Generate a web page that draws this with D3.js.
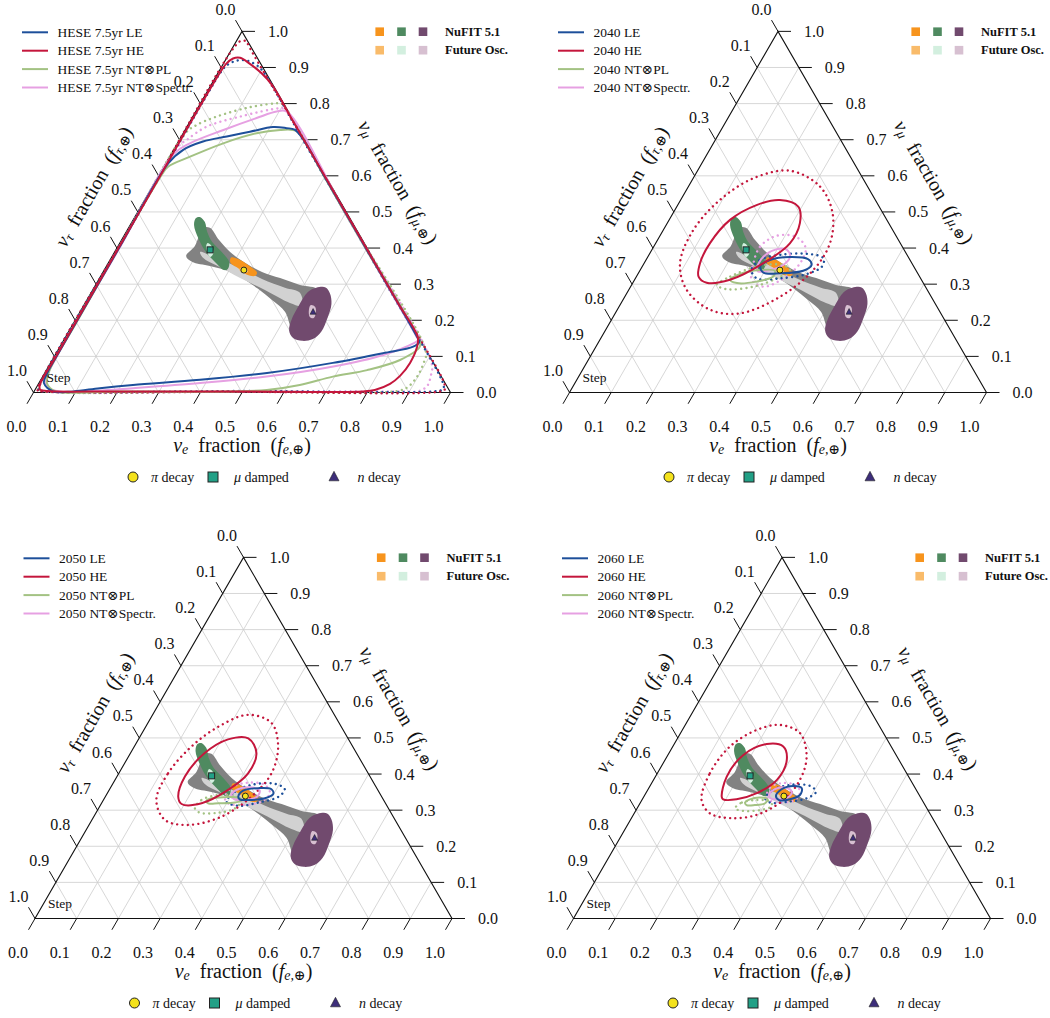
<!DOCTYPE html>
<html><head><meta charset="utf-8">
<script src="https://cdn.jsdelivr.net/npm/d3@7"></script>
<style>
body{margin:0;background:#fff;}
text{font-family:"Liberation Serif","DejaVu Serif",serif;fill:#111;}
</style></head><body>
<svg id="chart" width="1050" height="1018"></svg>
<script>
// ---------- axis values ----------
const tickValues = [0, 0.1, 0.2, 0.3, 0.4, 0.5, 0.6, 0.7, 0.8, 0.9, 1.0];
const tickLabels = ["0.0","0.1","0.2","0.3","0.4","0.5","0.6","0.7","0.8","0.9","1.0"];
const gridValues = [0.1, 0.2, 0.3, 0.4, 0.5, 0.6, 0.7, 0.8, 0.9];

// ---------- legend text ----------
const panelPrefixes = ["HESE 7.5yr", "2040", "2050", "2060"];
const seriesKeys = ["LE", "HE", "NT\u2297PL", "NT\u2297Spectr."];
const oscLabels = ["NuFIT 5.1", "Future Osc."];
const sourceLabels = [["\u03c0", " decay"], ["\u03bc", " damped"], ["n", " decay"]];

// ---------- source-flavour benchmarks at Earth [f_e, f_mu] ----------
const piDecay = [0.335, 0.339];
const muDamped = [0.226, 0.395];
const nDecay = [0.559, 0.223];

// ---------- allowed regions of flavour composition [f_e, f_mu] ----------
const anySourceOuter = [[0.177,0.378],[0.184,0.406],[0.179,0.456],[0.195,0.456],[0.234,0.422],[0.277,0.389],[0.334,0.356],[0.381,0.334],[0.433,0.317],[0.490,0.298],[0.540,0.284],[0.551,0.201],[0.536,0.173],[0.492,0.223],[0.444,0.256],[0.395,0.287],[0.351,0.312],[0.304,0.334],[0.248,0.350],[0.199,0.362]];
const anySourceInner = [[0.205,0.389],[0.249,0.373],[0.323,0.345],[0.391,0.314],[0.458,0.290],[0.501,0.276],[0.524,0.240],[0.491,0.248],[0.413,0.284],[0.337,0.317],[0.267,0.350],[0.220,0.373]];
const nufitMuDamped = [[0.156,0.486],[0.175,0.472],[0.194,0.445],[0.220,0.417],[0.257,0.389],[0.288,0.362],[0.295,0.342],[0.287,0.339],[0.262,0.356],[0.219,0.389],[0.181,0.428],[0.153,0.464],[0.148,0.483]];
const futureMuDamped = [[0.211,0.414],[0.227,0.403],[0.239,0.384],[0.236,0.375],[0.222,0.389],[0.211,0.406]];
const nufitPi = [[0.287,0.374],[0.312,0.367],[0.345,0.349],[0.370,0.332],[0.370,0.323],[0.349,0.326],[0.319,0.344],[0.292,0.360]];
const futurePi = [[0.326,0.346],[0.340,0.344],[0.347,0.335],[0.344,0.331],[0.330,0.334],[0.323,0.341]];
const nufitN = [[0.519,0.278],[0.533,0.290],[0.555,0.291],[0.574,0.274],[0.592,0.245],[0.602,0.206],[0.606,0.168],[0.596,0.148],[0.573,0.143],[0.547,0.151],[0.527,0.172],[0.518,0.202],[0.516,0.240]];
const futureN = [[0.544,0.242],[0.557,0.237],[0.567,0.220],[0.569,0.206],[0.558,0.209],[0.546,0.229]];

// ---------- measured flavour-ratio contours [f_e, f_mu]; 68% and 95% CL ----------
// HESE 7.5 yr
const hese_LE_68 = [[0.046,0.003],[0.094,0.003],[0.153,0.012],[0.228,0.021],[0.382,0.035],[0.533,0.054],[0.677,0.082],[0.784,0.109],[0.847,0.127],[0.855,0.140],[0.840,0.157],[0.600,0.397],[0.400,0.597],[0.292,0.705],[0.262,0.728],[0.241,0.732],[0.207,0.735],[0.158,0.722],[0.109,0.709],[0.059,0.695],[0.023,0.672],[0.006,0.635],[0.005,0.400],[0.005,0.100],[0.006,0.054],[0.012,0.026]];
const hese_LE_95 = [[0.020,0.004],[0.008,0.008],[0.004,0.020],[0.004,0.500],[0.004,0.840],[0.005,0.880],[0.010,0.905],[0.028,0.919],[0.052,0.919],[0.075,0.910],[0.100,0.894],[0.300,0.696],[0.700,0.296],[0.972,0.022],[0.978,0.009],[0.965,0.004],[0.500,0.004]];
const hese_HE_68 = [[0.030,0.004],[0.012,0.008],[0.005,0.020],[0.004,0.100],[0.004,0.500],[0.004,0.880],[0.007,0.910],[0.016,0.925],[0.032,0.927],[0.064,0.910],[0.105,0.884],[0.148,0.850],[0.250,0.748],[0.500,0.498],[0.750,0.248],[0.845,0.153],[0.857,0.125],[0.862,0.082],[0.856,0.046],[0.843,0.024],[0.815,0.007],[0.790,0.003],[0.500,0.003],[0.200,0.003]];
const hese_HE_95 = [[0.020,0.003],[0.007,0.006],[0.003,0.020],[0.003,0.500],[0.003,0.955],[0.011,0.974],[0.025,0.972],[0.036,0.960],[0.300,0.698],[0.700,0.298],[0.975,0.022],[0.982,0.008],[0.970,0.002],[0.500,0.002]];
const hese_PL_68 = [[0.050,0.004],[0.200,0.003],[0.477,0.003],[0.556,0.007],[0.628,0.021],[0.696,0.044],[0.769,0.062],[0.834,0.090],[0.863,0.127],[0.855,0.142],[0.600,0.396],[0.400,0.596],[0.275,0.720],[0.258,0.727],[0.228,0.727],[0.176,0.718],[0.110,0.690],[0.049,0.653],[0.010,0.625],[0.006,0.600],[0.006,0.200],[0.008,0.060],[0.020,0.025]];
const hese_PL_95 = [[0.020,0.004],[0.007,0.010],[0.004,0.030],[0.004,0.400],[0.005,0.718],[0.020,0.740],[0.057,0.764],[0.124,0.790],[0.190,0.801],[0.197,0.799],[0.500,0.496],[0.885,0.112],[0.895,0.080],[0.898,0.045],[0.890,0.015],[0.870,0.004],[0.500,0.003]];
const hese_Sp_68 = [[0.060,0.003],[0.119,0.003],[0.233,0.012],[0.387,0.026],[0.537,0.044],[0.683,0.072],[0.787,0.104],[0.843,0.136],[0.850,0.145],[0.840,0.156],[0.500,0.496],[0.218,0.778],[0.194,0.778],[0.155,0.760],[0.092,0.727],[0.030,0.690],[0.006,0.660],[0.006,0.400],[0.006,0.100],[0.010,0.045],[0.025,0.015]];
const hese_Sp_95 = [[0.020,0.004],[0.008,0.010],[0.005,0.030],[0.005,0.400],[0.006,0.680],[0.018,0.700],[0.047,0.736],[0.113,0.764],[0.197,0.787],[0.210,0.785],[0.500,0.496],[0.915,0.080],[0.930,0.045],[0.935,0.018],[0.922,0.004],[0.880,0.003],[0.500,0.003]];
// 2040 projection
const y2040_LE_68 = [[0.283,0.349],[0.297,0.367],[0.342,0.375],[0.388,0.369],[0.404,0.353],[0.392,0.337],[0.340,0.330],[0.299,0.332]];
const y2040_LE_95 = [[0.267,0.339],[0.273,0.367],[0.314,0.381],[0.377,0.384],[0.423,0.372],[0.431,0.349],[0.405,0.328],[0.347,0.316],[0.291,0.316]];
const y2040_HE_68 = [[0.134,0.358],[0.149,0.321],[0.177,0.304],[0.229,0.312],[0.286,0.358],[0.322,0.413],[0.318,0.469],[0.291,0.515],[0.238,0.533],[0.189,0.519],[0.146,0.478],[0.130,0.413]];
const y2040_HE_95 = [[0.222,0.614],[0.316,0.570],[0.383,0.496],[0.418,0.413],[0.415,0.339],[0.372,0.265],[0.299,0.219],[0.223,0.229],[0.139,0.284],[0.086,0.358],[0.072,0.450],[0.094,0.533],[0.144,0.593]];
const y2040_PL_68 = [[0.229,0.312],[0.245,0.328],[0.287,0.339],[0.324,0.337],[0.328,0.321],[0.295,0.307],[0.250,0.303]];
const y2040_PL_95 = [[0.204,0.298],[0.225,0.321],[0.275,0.349],[0.336,0.353],[0.359,0.339],[0.339,0.316],[0.294,0.293],[0.234,0.286]];
const y2040_Sp_68 = [[0.277,0.344],[0.277,0.376],[0.299,0.397],[0.324,0.395],[0.341,0.376],[0.336,0.353],[0.311,0.339],[0.285,0.335]];
const y2040_Sp_95 = [[0.262,0.358],[0.255,0.404],[0.280,0.434],[0.330,0.430],[0.367,0.399],[0.374,0.358],[0.355,0.316],[0.318,0.293],[0.281,0.312]];
// 2050 projection
const y2050_LE_68 = [[0.319,0.337],[0.322,0.354],[0.355,0.361],[0.388,0.358],[0.399,0.345],[0.385,0.333],[0.347,0.328],[0.326,0.330]];
const y2050_LE_95 = [[0.297,0.324],[0.304,0.351],[0.334,0.370],[0.389,0.373],[0.420,0.358],[0.415,0.337],[0.375,0.321],[0.332,0.312]];
const y2050_HE_68 = [[0.175,0.337],[0.163,0.393],[0.178,0.458],[0.215,0.496],[0.262,0.499],[0.302,0.458],[0.310,0.402],[0.285,0.356],[0.240,0.319],[0.193,0.317]];
const y2050_HE_95 = [[0.127,0.328],[0.118,0.402],[0.137,0.476],[0.174,0.531],[0.229,0.564],[0.297,0.541],[0.345,0.476],[0.366,0.402],[0.350,0.337],[0.306,0.282],[0.238,0.259],[0.175,0.273]];
const y2050_PL_68 = [[0.248,0.326],[0.257,0.333],[0.287,0.336],[0.320,0.335],[0.331,0.328],[0.319,0.321],[0.280,0.319],[0.256,0.319]];
const y2050_PL_95 = [[0.231,0.305],[0.235,0.328],[0.268,0.342],[0.309,0.339],[0.331,0.328],[0.327,0.305],[0.293,0.293],[0.249,0.293]];
const y2050_Sp_68 = [[0.300,0.342],[0.308,0.358],[0.338,0.363],[0.362,0.354],[0.363,0.336],[0.339,0.328],[0.314,0.330]];
const y2050_Sp_95 = [[0.289,0.333],[0.290,0.363],[0.323,0.376],[0.366,0.370],[0.390,0.347],[0.381,0.324],[0.338,0.314],[0.304,0.319]];
// 2060 projection
const y2060_LE_68 = [[0.316,0.339],[0.320,0.358],[0.344,0.367],[0.367,0.361],[0.372,0.342],[0.354,0.330],[0.329,0.328]];
const y2060_LE_95 = [[0.293,0.333],[0.301,0.356],[0.334,0.370],[0.384,0.367],[0.406,0.351],[0.393,0.333],[0.357,0.324],[0.311,0.321]];
const y2060_HE_68 = [[0.187,0.337],[0.171,0.393],[0.181,0.453],[0.222,0.483],[0.265,0.476],[0.292,0.439],[0.296,0.384],[0.266,0.347],[0.226,0.330],[0.194,0.330]];
const y2060_HE_95 = [[0.143,0.328],[0.126,0.402],[0.137,0.476],[0.178,0.522],[0.227,0.536],[0.287,0.513],[0.335,0.448],[0.351,0.384],[0.339,0.328],[0.296,0.287],[0.237,0.278],[0.182,0.291]];
const y2060_PL_68 = [[0.251,0.321],[0.258,0.330],[0.280,0.335],[0.300,0.330],[0.300,0.319],[0.278,0.314],[0.258,0.314]];
const y2060_PL_95 = [[0.235,0.305],[0.243,0.321],[0.275,0.328],[0.309,0.324],[0.320,0.312],[0.301,0.301],[0.258,0.298]];
const y2060_Sp_68 = [[0.298,0.342],[0.304,0.358],[0.326,0.363],[0.348,0.351],[0.347,0.336],[0.326,0.330],[0.306,0.333]];
const y2060_Sp_95 = [[0.295,0.337],[0.290,0.363],[0.312,0.375],[0.346,0.370],[0.368,0.351],[0.367,0.328],[0.339,0.321],[0.309,0.326]];

// ---------- drawing ----------
const svg = d3.select("#chart");
const SIDE = 417, HGT = SIDE * Math.sqrt(3) / 2;
const colors = { LE: "#1d4f9a", HE: "#c4163c", PL: "#a3c283", Sp: "#e6a0e2" };
const oscColors = [["#f7941d", "#4f8a60", "#714a6e"], ["#f9bb6a", "#d3efdf", "#d7c0d1"]];

const panels = [
  { ox: 33.5, oy: 392.5, prefix: panelPrefixes[0],
    sets: { LE: [hese_LE_68, hese_LE_95], HE: [hese_HE_68, hese_HE_95], PL: [hese_PL_68, hese_PL_95], Sp: [hese_Sp_68, hese_Sp_95] } },
  { ox: 569.5, oy: 392.5, prefix: panelPrefixes[1],
    sets: { LE: [y2040_LE_68, y2040_LE_95], HE: [y2040_HE_68, y2040_HE_95], PL: [y2040_PL_68, y2040_PL_95], Sp: [y2040_Sp_68, y2040_Sp_95] } },
  { ox: 35, oy: 918.5, prefix: panelPrefixes[2],
    sets: { LE: [y2050_LE_68, y2050_LE_95], HE: [y2050_HE_68, y2050_HE_95], PL: [y2050_PL_68, y2050_PL_95], Sp: [y2050_Sp_68, y2050_Sp_95] } },
  { ox: 573.5, oy: 918.5, prefix: panelPrefixes[3],
    sets: { LE: [y2060_LE_68, y2060_LE_95], HE: [y2060_HE_68, y2060_HE_95], PL: [y2060_PL_68, y2060_PL_95], Sp: [y2060_Sp_68, y2060_Sp_95] } }
];

function mathTitle(g, x, y, rot, sub) {
  const t = g.append("text")
    .attr("transform", `translate(${x},${y}) rotate(${rot})`)
    .attr("text-anchor", "middle").attr("dominant-baseline", "central")
    .style("font-size", "20px");
  t.append("tspan").text("\u03bd").style("font-style", "italic");
  t.append("tspan").text(sub).attr("dy", 4).style("font-size", "14px").style("font-style", "italic");
  t.append("tspan").text("\u2002fraction\u2002(").attr("dy", -4);
  t.append("tspan").text("f").style("font-style", "italic");
  t.append("tspan").text(sub + ",\u2295").attr("dy", 4).style("font-size", "14px").style("font-style", "italic");
  t.append("tspan").text(")").attr("dy", -4);
}

function markerShape(g, kind, cx, cy, s) {
  if (kind === 0) {
    g.append("circle").attr("cx", cx).attr("cy", cy).attr("r", s / 2)
      .attr("fill", "#f4e21c").attr("stroke", "#222").attr("stroke-width", 1);
  } else if (kind === 1) {
    g.append("rect").attr("x", cx - s / 2).attr("y", cy - s / 2).attr("width", s).attr("height", s)
      .attr("fill", "#22a086").attr("stroke", "#222").attr("stroke-width", 1);
  } else {
    const h = s * 0.95;
    g.append("path").attr("d", `M${cx},${cy - h * 0.6}L${cx + s / 2},${cy + h * 0.4}L${cx - s / 2},${cy + h * 0.4}Z`)
      .attr("fill", "#3d2e7a").attr("stroke", "#222").attr("stroke-width", 0.6);
  }
}

panels.forEach(p => {
  const g = svg.append("g");
  const xS = d3.scaleLinear().domain([0, 1]).range([p.ox, p.ox + SIDE]);
  const yS = d3.scaleLinear().domain([0, 1]).range([p.oy, p.oy - HGT]);
  const P = d => [xS(d[0] + d[1] / 2), yS(d[1])];
  const closed = d3.line().curve(d3.curveCatmullRomClosed.alpha(0.5)).x(d => P(d)[0]).y(d => P(d)[1]);

  // grid
  const grid = g.append("g").attr("stroke", "#cdcdcd").attr("stroke-width", 0.8);
  gridValues.forEach(v => {
    [[[0, v], [1 - v, v]], [[v, 0], [v, 1 - v]], [[1 - v, 0], [0, 1 - v]]].forEach(seg => {
      const a = P(seg[0]), b = P(seg[1]);
      grid.append("line").attr("x1", a[0]).attr("y1", a[1]).attr("x2", b[0]).attr("y2", b[1]);
    });
  });

  // source-flavour regions
  const regions = [
    [anySourceOuter, "#828282"], [anySourceInner, "#d2d2d2"],
    [nufitMuDamped, oscColors[0][1]], [futureMuDamped, oscColors[1][1]],
    [nufitPi, oscColors[0][0]], [futurePi, oscColors[1][0]],
    [nufitN, oscColors[0][2]], [futureN, oscColors[1][2]]
  ];
  regions.forEach(([d, c]) => g.append("path").attr("d", closed(d)).attr("fill", c));

  // triangle frame
  const corners = [[0, 0], [1, 0], [0, 1]].map(P);
  g.append("path").attr("d", "M" + corners.join("L") + "Z")
    .attr("fill", "none").attr("stroke", "#111").attr("stroke-width", 1.1);

  // ticks + labels
  const L = 13;
  const tk = g.append("g").attr("stroke", "#111").attr("stroke-width", 1);
  tickValues.forEach((v, i) => {
    const b = P([v, 0]);
    tk.append("line").attr("x1", b[0]).attr("y1", b[1]).attr("x2", b[0] - 0.5 * L).attr("y2", b[1] + 0.866 * L);
    g.append("text").attr("x", b[0] - 17).attr("y", b[1] + 34).attr("text-anchor", "middle")
      .attr("dominant-baseline", "central").style("font-size", "16px").text(tickLabels[i]);
    const r = P([1 - v, v]);
    tk.append("line").attr("x1", r[0]).attr("y1", r[1]).attr("x2", r[0] + L).attr("y2", r[1]);
    g.append("text").attr("x", r[0] + 36).attr("y", r[1]).attr("text-anchor", "middle")
      .attr("dominant-baseline", "central").style("font-size", "16px").text(tickLabels[i]);
    const l = P([0, 1 - v]);
    tk.append("line").attr("x1", l[0]).attr("y1", l[1]).attr("x2", l[0] - 0.5 * L).attr("y2", l[1] - 0.866 * L);
    g.append("text").attr("x", l[0] - 16.5).attr("y", l[1] - 22).attr("text-anchor", "middle")
      .attr("dominant-baseline", "central").style("font-size", "16px").text(tickLabels[i]);
  });

  // axis titles
  const mb = P([0.5, 0]);
  mathTitle(g, mb[0], mb[1] + 52, 0, "e");
  const ml = P([0, 0.5]);
  mathTitle(g, ml[0] - 0.866 * 51, ml[1] - 0.5 * 51, -60, "\u03c4");
  const mr = P([0.5, 0.5]);
  mathTitle(g, mr[0] + 0.866 * 60, mr[1] - 0.5 * 60, 60, "\u03bc");

  // contours: 95% dotted first, then 68% solid
  const order = ["Sp", "PL", "LE", "HE"];
  order.forEach(k => {
    g.append("path").attr("d", closed(p.sets[k][1])).attr("fill", "none")
      .attr("stroke", colors[k]).attr("stroke-width", 2.4)
      .attr("stroke-linecap", "round").attr("stroke-dasharray", "0.01 5.3");
  });
  order.forEach(k => {
    g.append("path").attr("d", closed(p.sets[k][0])).attr("fill", "none")
      .attr("stroke", colors[k]).attr("stroke-width", 2);
  });

  // benchmark markers
  [piDecay, muDamped, nDecay].forEach((d, i) => {
    const c = P(d);
    markerShape(g, i, c[0], c[1], 6);
  });

  g.append("text").attr("x", p.ox + 13).attr("y", p.oy - 11).style("font-size", "13.5px").text("Step");

  // series legend
  ["LE", "HE", "PL", "Sp"].forEach((k, i) => {
    const y = p.oy - 360.2 + i * 18.4;
    g.append("line").attr("x1", p.ox - 11.5).attr("x2", p.ox + 14.5).attr("y1", y).attr("y2", y)
      .attr("stroke", colors[k]).attr("stroke-width", 2);
    g.append("text").attr("x", p.ox + 24).attr("y", y).attr("dominant-baseline", "central")
      .style("font-size", "13.5px").text(p.prefix + " " + seriesKeys[i]);
  });

  // oscillation legend
  oscLabels.forEach((lab, r) => {
    const y = p.oy - 360.8 + r * 18.5;
    [346.2, 368, 389.5].forEach((dx, c) => {
      g.append("rect").attr("x", p.ox + dx - 4.3).attr("y", y - 4.3).attr("width", 8.6).attr("height", 8.6)
        .attr("fill", oscColors[r][c]);
    });
    g.append("text").attr("x", p.ox + 411.5).attr("y", y).attr("dominant-baseline", "central")
      .style("font-size", "12.5px").style("font-weight", "bold").text(lab);
  });

  // source legend
  const ly = p.oy + 84.5;
  [[99.5, 117.5], [179.5, 200.5], [300.5, 324]].forEach(([mx, tx], i) => {
    markerShape(g, i, p.ox + mx, ly, 10);
    const t = g.append("text").attr("x", p.ox + tx).attr("y", ly).attr("dominant-baseline", "central")
      .style("font-size", "14px");
    t.append("tspan").text(sourceLabels[i][0]).style("font-style", "italic");
    t.append("tspan").text(sourceLabels[i][1]);
  });
});
</script>
</body></html>
